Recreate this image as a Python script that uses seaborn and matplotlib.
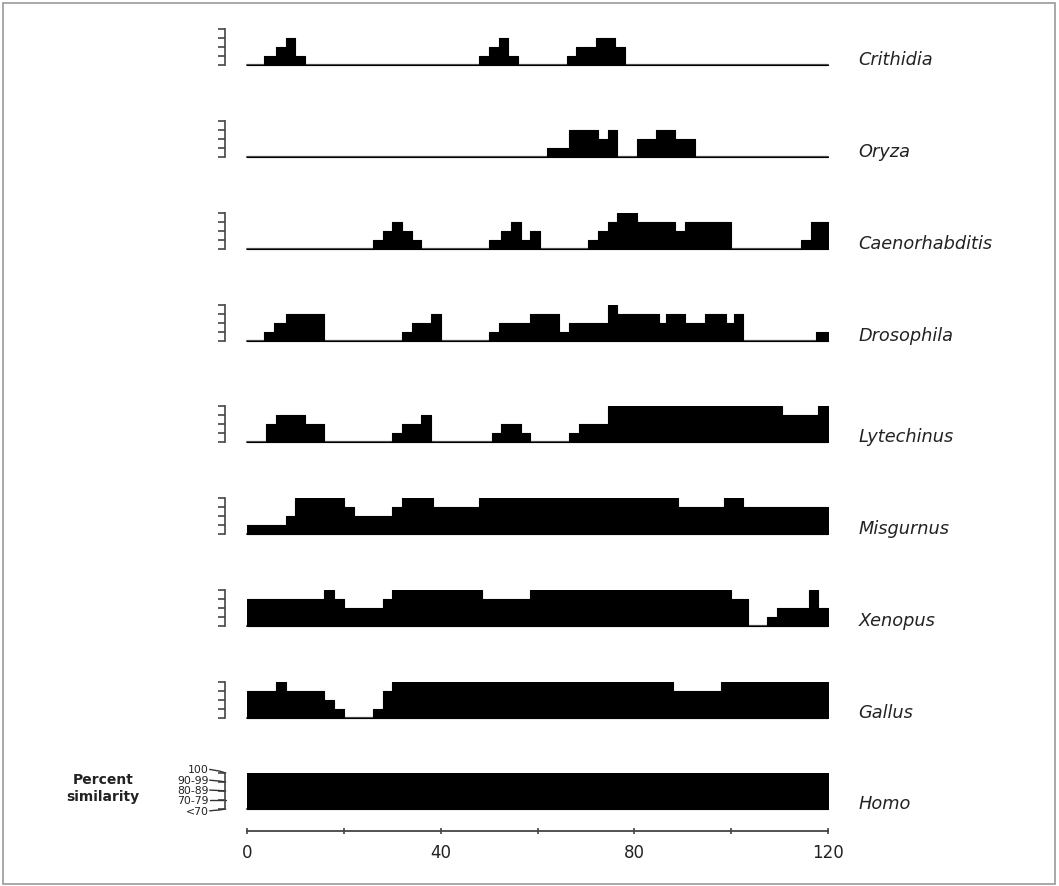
import numpy as np
import pandas as pd
import matplotlib
matplotlib.use("Agg")
import matplotlib.pyplot as plt
import seaborn as sns
from matplotlib.patches import Rectangle

sns.set_theme(style="white")
plt.rcParams['font.family'] = ['DejaVu Sans']

# ---- data: step profiles (bin edges along residue position, similarity level 0..4) ----
species = ["Crithidia", "Oryza", "Caenorhabditis", "Drosophila", "Lytechinus",
           "Misgurnus", "Xenopus", "Gallus", "Homo"]

crithidia_edges = [0, 3.5, 6, 8, 10, 12, 48, 50, 52, 54, 56, 66, 68, 72, 76, 78, 120]
crithidia_levels = [0, 1, 2, 3, 1, 0, 1, 2, 3, 1, 0, 1, 2, 3, 2, 0]

oryza_edges = [0, 62, 66.5, 72.5, 74.5, 76.5, 80.5, 84.5, 88.5, 92.5, 120]
oryza_levels = [0, 1, 3, 2, 3, 0, 2, 3, 2, 0]

caeno_edges = [0, 26, 28, 30, 32, 34, 36, 50, 52.5, 54.5, 56.5, 58.5, 60.5, 70.5, 72.5,
               74.5, 76.5, 80.5, 88.5, 90.5, 100, 114.5, 116.5, 120]
caeno_levels = [0, 1, 2, 3, 2, 1, 0, 1, 2, 3, 1, 2, 0, 1, 2, 3, 4, 3, 2, 3, 0, 1, 3]

droso_edges = [0, 3.5, 5.5, 8, 16, 32, 34, 38, 40, 50, 52, 58.5, 64.5, 66.5, 74.5, 76.5,
               85, 86.5, 90.5, 94.5, 99, 100.5, 102.5, 117.5, 120]
droso_levels = [0, 1, 2, 3, 0, 1, 2, 3, 0, 1, 2, 3, 1, 2, 4, 3, 2, 3, 2, 3, 2, 3, 0, 1]

lyte_edges = [0, 4, 6, 12, 16, 30, 32, 36, 38, 50.5, 52.5, 56.5, 58.5, 66.5, 68.5, 74.5,
              110.5, 118, 120]
lyte_levels = [0, 2, 3, 2, 0, 1, 2, 3, 0, 1, 2, 1, 0, 1, 2, 4, 3, 4]

misg_edges = [0, 8, 10, 20, 22, 30, 32, 38.5, 48, 89, 98.5, 102.5, 120]
misg_levels = [1, 2, 4, 3, 2, 3, 4, 3, 4, 3, 4, 3]

xeno_edges = [0, 16, 18, 20, 28, 30, 48.5, 58.5, 100, 103.5, 107.5, 109.5, 116, 118, 120]
xeno_levels = [3, 4, 3, 2, 3, 4, 3, 4, 3, 0, 1, 2, 4, 2]

gallus_edges = [0, 6, 8, 16, 18, 20, 26, 28, 30, 88, 98, 120]
gallus_levels = [3, 4, 3, 2, 1, 0, 1, 3, 4, 3, 4]

homo_edges = [0, 120]
homo_levels = [4]

x_ticks = [0, 20, 40, 60, 80, 100, 120]
x_ticklabels = ["0", "", "40", "", "80", "", "120"]
legend_labels = ["<70", "70-79", "80-89", "90-99", "100"]

profiles = [
    (crithidia_edges, crithidia_levels), (oryza_edges, oryza_levels),
    (caeno_edges, caeno_levels), (droso_edges, droso_levels),
    (lyte_edges, lyte_levels), (misg_edges, misg_levels),
    (xeno_edges, xeno_levels), (gallus_edges, gallus_levels),
    (homo_edges, homo_levels),
]

# ---- layout (pixel geometry of the reference) ----
W, H = 1059, 887
fig = plt.figure(figsize=(W / 100, H / 100), dpi=100)
baselines = [66, 158, 250, 342, 443, 535, 627, 719, 810]
x0_px, x1_px = 247, 828
row_h = 36

axes = []
for name, (edges, levels), b in zip(species, profiles, baselines):
    ax = fig.add_axes([x0_px / W, 1 - b / H, (x1_px - x0_px) / W, row_h / H])
    df = pd.DataFrame({"pos": edges[:-1], "level": levels})
    sns.histplot(data=df, x="pos", weights="level", bins=edges, element="step",
                 fill=True, color="black", alpha=1, linewidth=0.8,
                 edgecolor="black", ax=ax)
    ax.plot([0, 120], [0, 0], color="#555555", lw=1.6, clip_on=False, zorder=0.5)
    ax.set_xlim(0, 120)
    ax.set_ylim(0, 4)
    ax.set_xlabel("")
    ax.set_ylabel("")
    for s in ["top", "right", "bottom"]:
        ax.spines[s].set_visible(False)
    ax.spines["left"].set_position(("outward", 16))
    ax.spines["left"].set_color("#444444")
    ax.spines["left"].set_linewidth(1.2)
    ax.spines["left"].set_bounds(0, 4)
    ax.set_yticks([0, 1, 2, 3, 4])
    ax.set_yticklabels([])
    ax.tick_params(axis="y", which="both", left=True, direction="out", length=5,
                   width=1.2, color="#444444")
    ax.set_xticks([])
    ax.patch.set_alpha(0)
    ax.text(126.3, 0.65, name, style="italic", fontsize=12.8, va="center",
            ha="left", color="#222222", clip_on=False)
    axes.append(ax)

# x axis on the bottom row
axh = axes[-1]
axh.spines["bottom"].set_visible(True)
axh.spines["bottom"].set_position(("outward", 16))
axh.spines["bottom"].set_color("#444444")
axh.spines["bottom"].set_linewidth(1.3)
axh.set_xticks(x_ticks)
axh.set_xticklabels(x_ticklabels, fontsize=12, color="#222222")
axh.tick_params(axis="x", bottom=True, direction="inout", length=5, width=1.2,
                color="#444444", pad=6)

# legend for the similarity levels (left of Homo)
label_y = [-0.2, 1.0, 2.1, 3.2, 4.4]
for k, (lab, ly) in enumerate(zip(legend_labels, label_y)):
    axh.text(-7.9, ly, lab, ha="right", va="center", fontsize=7.8,
             color="#222222", clip_on=False)
    axh.plot([-7.7, -5.6, -4.4], [ly, ly + (k - ly) * 0.5, k], color="#333333",
             lw=1.0, clip_on=False)

fig.text(103 / W, 1 - 780 / H, "Percent", ha="center", va="center",
         fontsize=10, fontweight="bold", color="#222222")
fig.text(103 / W, 1 - 797 / H, "similarity", ha="center", va="center",
         fontsize=10, fontweight="bold", color="#222222")

fig.patches.append(Rectangle((3 / W, 2 / H), 1 - 7 / W, 1 - 6 / H,
                             transform=fig.transFigure, fill=False,
                             edgecolor="#999999", lw=1.2))

fig.savefig("out.png", dpi=100, facecolor="white")
